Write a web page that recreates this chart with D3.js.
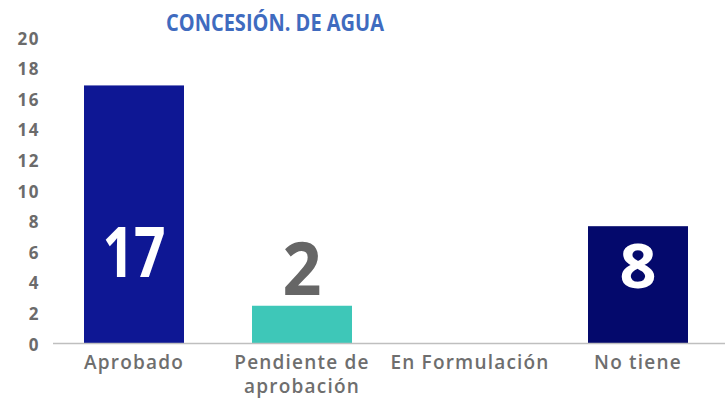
<!DOCTYPE html>
<html>
<head>
<meta charset="utf-8">
<script src="https://cdn.jsdelivr.net/npm/d3@7"></script>
<style>
  body { margin: 0; background: #fff; }
  svg text { font-family: "Open Sans", "DejaVu Sans", sans-serif; }
</style>
</head>
<body>
<div class="barchart"></div>
<script>
// data
var categories = ['Aprobado', 'Pendiente de aprobación', 'En Formulación', 'No tiene']
var catLines = [['Aprobado'], ['Pendiente de', 'aprobación'], ['En Formulación'], ['No tiene']]
var values = [16.9, 2.5, 0, 7.7]
var valueLabels = ['17', '2', '', '8']
var colors = ['#0e1794', '#3ec7b8', '#ffffff', '#04096c']
var labelColors = ['#ffffff', '#666666', '#ffffff', '#ffffff']
var yTicks = [0, 2, 4, 6, 8, 10, 12, 14, 16, 18, 20]

var W = 725, H = 402
var svg = d3.select('.barchart').append('svg')
    .attr('width', W)
    .attr('height', H)

var xScale = d3.scaleBand()
    .domain(categories)
    .range([50, 722])
    .paddingInner(68 / 168)
    .paddingOuter(34 / 168)

var yScale = d3.scaleLinear()
    .domain([0, 20])
    .range([344, 38])

// title
svg.append('text')
    .attr('x', 166)
    .attr('y', 31)
    .attr('textLength', 218)
    .attr('lengthAdjust', 'spacingAndGlyphs')
    .style('font-size', '23px')
    .style('font-weight', 700)
    .style('fill', '#3f6bbf')
    .text('CONCESIÓN. DE AGUA')

// y axis labels only
var yAxis = d3.axisLeft(yScale).tickValues(yTicks).tickSize(0).tickPadding(0)
var yAx = svg.append('g')
    .attr('transform', 'translate(40,0)')
    .call(yAxis)
yAx.select('.domain').remove()
yAx.selectAll('text')
    .attr('dy', '0.36em')
    .style('font-size', '17px')
    .style('font-weight', 700)
    .style('letter-spacing', '1.5px')
    .style('fill', '#6b6b6b')
    .style('font-family', '"Open Sans", sans-serif')

// bars
svg.selectAll('rect.bar').data(values)
    .enter().append('rect')
    .attr('class', 'bar')
    .attr('x', function(d, i){ return xScale(categories[i]) })
    .attr('y', function(d){ return yScale(d) })
    .attr('width', xScale.bandwidth())
    .attr('height', function(d){ return yScale(0) - yScale(d) })
    .style('fill', function(d, i){ return colors[i] })

// baseline
svg.append('line')
    .attr('x1', 53)
    .attr('x2', W)
    .attr('y1', yScale(0) - 0.5)
    .attr('y2', yScale(0) - 0.5)
    .attr('stroke', '#bfbfbf')
    .attr('stroke-width', 1.5)

// big value labels
var labelSizes = [70, 73, 60, 60]
var labelY = [277, 295, 0, 288]
var labelW = [63, 39, 0, 37]
svg.selectAll('text.val').data(valueLabels)
    .enter().append('text')
    .attr('class', 'val')
    .attr('x', function(d, i){ return xScale(categories[i]) + xScale.bandwidth() / 2 - labelW[i] / 2 })
    .attr('y', function(d, i){ return labelY[i] })
    .attr('textLength', function(d, i){ return labelW[i] || null })
    .attr('lengthAdjust', 'spacingAndGlyphs')
    .style('font-size', function(d, i){ return labelSizes[i] + 'px' })
    .style('font-weight', 700)
    .style('fill', function(d, i){ return labelColors[i] })
    .text(function(d){ return d })

// x axis category labels
var xAx = svg.append('g')
xAx.selectAll('text').data(catLines)
    .enter().append('text')
    .attr('x', function(d, i){ return xScale(categories[i]) + xScale.bandwidth() / 2 })
    .attr('y', 369)
    .attr('text-anchor', 'middle')
    .style('font-size', '19px')
    .style('font-weight', 600)
    .style('letter-spacing', '1.2px')
    .style('fill', '#6e6e6e')
    .each(function(lines){
        var t = d3.select(this)
        lines.forEach(function(l, j){
            t.append('tspan')
                .attr('x', t.attr('x'))
                .attr('dy', j === 0 ? 0 : 24)
                .text(l)
        })
    })
</script>
</body>
</html>
